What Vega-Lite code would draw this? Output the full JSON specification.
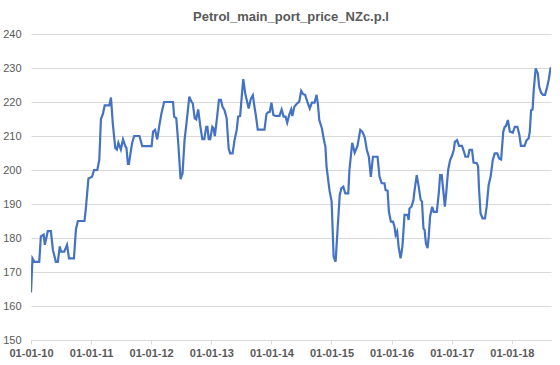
{
  "$schema": "https://vega.github.io/schema/vega-lite/v6.json",
  "autosize": {"type": "none"},
  "width": 520,
  "height": 306,
  "padding": {"left": 31, "top": 34, "right": 9, "bottom": 25},
  "background": "white",
  "title": {
    "text": "Petrol_main_port_price_NZc.p.l",
    "anchor": "middle",
    "font": "Liberation Sans",
    "fontSize": 13,
    "fontWeight": "bold",
    "color": "#595959",
    "offset": 4
  },
  "config": {"view": {"stroke": null}},
  "data": {
    "values": [
      {"date": "2010-01-01", "price": 164},
      {"date": "2010-01-10", "price": 174},
      {"date": "2010-01-22", "price": 173},
      {"date": "2010-02-20", "price": 173},
      {"date": "2010-03-02", "price": 180.5},
      {"date": "2010-03-19", "price": 181},
      {"date": "2010-03-26", "price": 178},
      {"date": "2010-04-13", "price": 182},
      {"date": "2010-05-02", "price": 182},
      {"date": "2010-05-14", "price": 176.5},
      {"date": "2010-06-01", "price": 173},
      {"date": "2010-06-13", "price": 173},
      {"date": "2010-06-25", "price": 177.5},
      {"date": "2010-07-02", "price": 176},
      {"date": "2010-07-22", "price": 176},
      {"date": "2010-08-08", "price": 178},
      {"date": "2010-08-20", "price": 174},
      {"date": "2010-09-19", "price": 174},
      {"date": "2010-10-01", "price": 182.5},
      {"date": "2010-10-13", "price": 185},
      {"date": "2010-11-22", "price": 185},
      {"date": "2010-12-01", "price": 189},
      {"date": "2010-12-16", "price": 197.5},
      {"date": "2011-01-07", "price": 198},
      {"date": "2011-01-19", "price": 200},
      {"date": "2011-02-08", "price": 200},
      {"date": "2011-02-20", "price": 203},
      {"date": "2011-03-02", "price": 215},
      {"date": "2011-03-14", "price": 216.5},
      {"date": "2011-03-25", "price": 219},
      {"date": "2011-04-22", "price": 219},
      {"date": "2011-05-02", "price": 221.3},
      {"date": "2011-05-13", "price": 213.7},
      {"date": "2011-05-28", "price": 206.5},
      {"date": "2011-06-07", "price": 206},
      {"date": "2011-06-16", "price": 208},
      {"date": "2011-07-01", "price": 206},
      {"date": "2011-07-14", "price": 209},
      {"date": "2011-07-28", "price": 207},
      {"date": "2011-08-04", "price": 206.5},
      {"date": "2011-08-13", "price": 201.8},
      {"date": "2011-08-19", "price": 201.8},
      {"date": "2011-09-01", "price": 206},
      {"date": "2011-09-08", "price": 208},
      {"date": "2011-09-20", "price": 210},
      {"date": "2011-10-22", "price": 210},
      {"date": "2011-11-08", "price": 207},
      {"date": "2012-01-04", "price": 207},
      {"date": "2012-01-13", "price": 211.3},
      {"date": "2012-01-25", "price": 211.8},
      {"date": "2012-02-07", "price": 209},
      {"date": "2012-02-22", "price": 213.7},
      {"date": "2012-03-04", "price": 216.7},
      {"date": "2012-03-20", "price": 220},
      {"date": "2012-05-13", "price": 220},
      {"date": "2012-05-20", "price": 215.7},
      {"date": "2012-06-02", "price": 215.2},
      {"date": "2012-06-14", "price": 207.8},
      {"date": "2012-06-28", "price": 197.3},
      {"date": "2012-07-10", "price": 199},
      {"date": "2012-07-22", "price": 208.8},
      {"date": "2012-08-04", "price": 214.2},
      {"date": "2012-08-20", "price": 221.6},
      {"date": "2012-09-02", "price": 220.1},
      {"date": "2012-09-10", "price": 219.6},
      {"date": "2012-09-22", "price": 215.2},
      {"date": "2012-10-01", "price": 214.9},
      {"date": "2012-10-13", "price": 217.8},
      {"date": "2012-10-25", "price": 213.2},
      {"date": "2012-11-07", "price": 209.1},
      {"date": "2012-11-19", "price": 209.1},
      {"date": "2012-12-01", "price": 212.7},
      {"date": "2012-12-08", "price": 212.7},
      {"date": "2012-12-16", "price": 209.1},
      {"date": "2012-12-25", "price": 209.1},
      {"date": "2013-01-07", "price": 212.7},
      {"date": "2013-01-14", "price": 212.3},
      {"date": "2013-01-22", "price": 210},
      {"date": "2013-02-04", "price": 215.2},
      {"date": "2013-02-16", "price": 220.6},
      {"date": "2013-02-28", "price": 220.6},
      {"date": "2013-03-10", "price": 218.6},
      {"date": "2013-03-22", "price": 217.6},
      {"date": "2013-04-04", "price": 215.2},
      {"date": "2013-04-16", "price": 206.4},
      {"date": "2013-04-25", "price": 204.9},
      {"date": "2013-05-10", "price": 204.9},
      {"date": "2013-05-22", "price": 208.8},
      {"date": "2013-06-04", "price": 211.8},
      {"date": "2013-06-13", "price": 215.7},
      {"date": "2013-06-25", "price": 215.9},
      {"date": "2013-07-07", "price": 223},
      {"date": "2013-07-14", "price": 226.7},
      {"date": "2013-07-26", "price": 222.5},
      {"date": "2013-08-04", "price": 220.6},
      {"date": "2013-08-16", "price": 218.1},
      {"date": "2013-08-28", "price": 220.8},
      {"date": "2013-09-10", "price": 222},
      {"date": "2013-09-20", "price": 218.6},
      {"date": "2013-09-28", "price": 216.2},
      {"date": "2013-10-10", "price": 211.9},
      {"date": "2013-11-20", "price": 211.9},
      {"date": "2013-12-02", "price": 216.5},
      {"date": "2013-12-10", "price": 216.9},
      {"date": "2013-12-22", "price": 217.1},
      {"date": "2014-01-01", "price": 219.8},
      {"date": "2014-01-13", "price": 216.2},
      {"date": "2014-01-25", "price": 215.9},
      {"date": "2014-02-19", "price": 215.9},
      {"date": "2014-03-04", "price": 217.8},
      {"date": "2014-03-16", "price": 215.7},
      {"date": "2014-03-28", "price": 215.7},
      {"date": "2014-04-07", "price": 213.9},
      {"date": "2014-04-19", "price": 216.2},
      {"date": "2014-05-01", "price": 217.8},
      {"date": "2014-05-08", "price": 215.9},
      {"date": "2014-05-20", "price": 218.6},
      {"date": "2014-06-07", "price": 219.6},
      {"date": "2014-06-19", "price": 220.1},
      {"date": "2014-07-01", "price": 223.3},
      {"date": "2014-07-13", "price": 222.3},
      {"date": "2014-07-25", "price": 222.1},
      {"date": "2014-08-07", "price": 220.1},
      {"date": "2014-08-22", "price": 218.1},
      {"date": "2014-09-04", "price": 219.8},
      {"date": "2014-09-20", "price": 219.8},
      {"date": "2014-10-02", "price": 222.1},
      {"date": "2014-10-10", "price": 219.6},
      {"date": "2014-10-19", "price": 214.7},
      {"date": "2014-11-04", "price": 212.2},
      {"date": "2014-11-16", "price": 208.8},
      {"date": "2014-11-25", "price": 206.9},
      {"date": "2014-12-02", "price": 201},
      {"date": "2014-12-20", "price": 194},
      {"date": "2015-01-02", "price": 190.7},
      {"date": "2015-01-14", "price": 174.5},
      {"date": "2015-01-26", "price": 173},
      {"date": "2015-02-08", "price": 183.3},
      {"date": "2015-02-20", "price": 192.6},
      {"date": "2015-03-02", "price": 194.6},
      {"date": "2015-03-14", "price": 195.1},
      {"date": "2015-03-26", "price": 193.1},
      {"date": "2015-04-13", "price": 193.1},
      {"date": "2015-04-20", "price": 200},
      {"date": "2015-05-07", "price": 208},
      {"date": "2015-05-22", "price": 205.1},
      {"date": "2015-06-08", "price": 207.1},
      {"date": "2015-06-25", "price": 211.8},
      {"date": "2015-07-07", "price": 211.3},
      {"date": "2015-07-22", "price": 209.6},
      {"date": "2015-08-04", "price": 205.9},
      {"date": "2015-08-16", "price": 203.9},
      {"date": "2015-08-28", "price": 198},
      {"date": "2015-09-10", "price": 203.9},
      {"date": "2015-10-08", "price": 203.9},
      {"date": "2015-10-20", "price": 198},
      {"date": "2015-11-02", "price": 196.1},
      {"date": "2015-11-19", "price": 196.1},
      {"date": "2015-11-26", "price": 194.1},
      {"date": "2015-12-08", "price": 193.9},
      {"date": "2015-12-16", "price": 187.7},
      {"date": "2015-12-28", "price": 184.8},
      {"date": "2016-01-10", "price": 184.8},
      {"date": "2016-01-19", "price": 183.3},
      {"date": "2016-01-26", "price": 180.9},
      {"date": "2016-02-04", "price": 181.9},
      {"date": "2016-02-13", "price": 177.4},
      {"date": "2016-02-25", "price": 174},
      {"date": "2016-03-07", "price": 177.4},
      {"date": "2016-03-20", "price": 186.8},
      {"date": "2016-04-07", "price": 186.8},
      {"date": "2016-04-14", "price": 185.3},
      {"date": "2016-04-19", "price": 188.7},
      {"date": "2016-05-01", "price": 189.2},
      {"date": "2016-05-13", "price": 191.2},
      {"date": "2016-05-20", "price": 194.1},
      {"date": "2016-06-02", "price": 198.5},
      {"date": "2016-06-14", "price": 195.1},
      {"date": "2016-06-26", "price": 191.2},
      {"date": "2016-07-04", "price": 190.7},
      {"date": "2016-07-13", "price": 182.8},
      {"date": "2016-07-20", "price": 182.3},
      {"date": "2016-07-28", "price": 178.4},
      {"date": "2016-08-07", "price": 177},
      {"date": "2016-08-14", "price": 180.4},
      {"date": "2016-08-22", "price": 186.3},
      {"date": "2016-09-04", "price": 189.2},
      {"date": "2016-09-13", "price": 187.7},
      {"date": "2016-10-02", "price": 187.7},
      {"date": "2016-10-14", "price": 193.1},
      {"date": "2016-10-22", "price": 198.5},
      {"date": "2016-11-01", "price": 198.5},
      {"date": "2016-11-08", "price": 195.1},
      {"date": "2016-11-20", "price": 189.2},
      {"date": "2016-11-28", "price": 193.1},
      {"date": "2016-12-10", "price": 200},
      {"date": "2016-12-22", "price": 202.9},
      {"date": "2017-01-04", "price": 204.4},
      {"date": "2017-01-13", "price": 205.9},
      {"date": "2017-01-20", "price": 208.3},
      {"date": "2017-02-02", "price": 208.8},
      {"date": "2017-02-14", "price": 207.1},
      {"date": "2017-03-04", "price": 207.1},
      {"date": "2017-03-16", "price": 205.4},
      {"date": "2017-03-25", "price": 203.9},
      {"date": "2017-04-10", "price": 203.9},
      {"date": "2017-04-19", "price": 205.9},
      {"date": "2017-05-04", "price": 205.9},
      {"date": "2017-05-13", "price": 202.2},
      {"date": "2017-06-02", "price": 202},
      {"date": "2017-06-10", "price": 201},
      {"date": "2017-06-16", "price": 194.1},
      {"date": "2017-06-25", "price": 187.2},
      {"date": "2017-07-07", "price": 185.8},
      {"date": "2017-07-22", "price": 185.8},
      {"date": "2017-08-01", "price": 189.2},
      {"date": "2017-08-13", "price": 195.6},
      {"date": "2017-08-25", "price": 198},
      {"date": "2017-09-07", "price": 202.9},
      {"date": "2017-09-19", "price": 204.9},
      {"date": "2017-10-04", "price": 204.9},
      {"date": "2017-10-16", "price": 203.4},
      {"date": "2017-10-28", "price": 203.1},
      {"date": "2017-11-10", "price": 211.3},
      {"date": "2017-11-19", "price": 212.7},
      {"date": "2017-11-26", "price": 212.9},
      {"date": "2017-12-08", "price": 214.7},
      {"date": "2017-12-20", "price": 211.3},
      {"date": "2018-01-07", "price": 211},
      {"date": "2018-01-19", "price": 212.7},
      {"date": "2018-02-04", "price": 212.7},
      {"date": "2018-02-16", "price": 210.3},
      {"date": "2018-02-25", "price": 207.1},
      {"date": "2018-03-19", "price": 207.1},
      {"date": "2018-04-01", "price": 208.8},
      {"date": "2018-04-13", "price": 209.3},
      {"date": "2018-04-20", "price": 211.3},
      {"date": "2018-04-28", "price": 217.6},
      {"date": "2018-05-07", "price": 217.8},
      {"date": "2018-05-14", "price": 223.5},
      {"date": "2018-05-26", "price": 229.9},
      {"date": "2018-06-08", "price": 228.4},
      {"date": "2018-06-16", "price": 224.5},
      {"date": "2018-06-28", "price": 222.7},
      {"date": "2018-07-10", "price": 222.1},
      {"date": "2018-07-22", "price": 222.1},
      {"date": "2018-08-04", "price": 224.5},
      {"date": "2018-08-13", "price": 226.5},
      {"date": "2018-08-25", "price": 230.2}
    ]
  },
  "mark": {"type": "line", "color": "#4472C4", "strokeWidth": 2.2, "clip": true},
  "encoding": {
    "x": {
      "field": "date",
      "type": "temporal",
      "scale": {
        "type": "utc",
        "domain": [
          {"year": 2010, "month": 1, "date": 1, "utc": true},
          {"year": 2018, "month": 8, "date": 27, "utc": true}
        ]
      },
      "axis": {
        "title": null,
        "values": [
          {"year": 2010, "month": 1, "date": 1, "utc": true},
          {"year": 2011, "month": 1, "date": 1, "utc": true},
          {"year": 2012, "month": 1, "date": 1, "utc": true},
          {"year": 2013, "month": 1, "date": 1, "utc": true},
          {"year": 2014, "month": 1, "date": 1, "utc": true},
          {"year": 2015, "month": 1, "date": 1, "utc": true},
          {"year": 2016, "month": 1, "date": 1, "utc": true},
          {"year": 2017, "month": 1, "date": 1, "utc": true},
          {"year": 2018, "month": 1, "date": 1, "utc": true}
        ],
        "format": "%d-%m-%y",
        "grid": false,
        "domainColor": "#d9d9d9",
        "tickColor": "#d9d9d9",
        "tickSize": 4,
        "labelPadding": 3,
        "labelFont": "Liberation Sans",
        "labelFontSize": 11,
        "labelFontWeight": "bold",
        "labelColor": "#595959",
        "labelFlush": false,
        "labelOverlap": false
      }
    },
    "y": {
      "field": "price",
      "type": "quantitative",
      "scale": {"domain": [150, 240], "nice": false, "zero": false},
      "axis": {
        "title": null,
        "values": [150, 160, 170, 180, 190, 200, 210, 220, 230, 240],
        "domain": false,
        "ticks": false,
        "grid": true,
        "gridColor": "#d9d9d9",
        "gridWidth": 1,
        "labelPadding": 10,
        "labelFont": "Liberation Sans",
        "labelFontSize": 11,
        "labelColor": "#595959"
      }
    }
  }
}
